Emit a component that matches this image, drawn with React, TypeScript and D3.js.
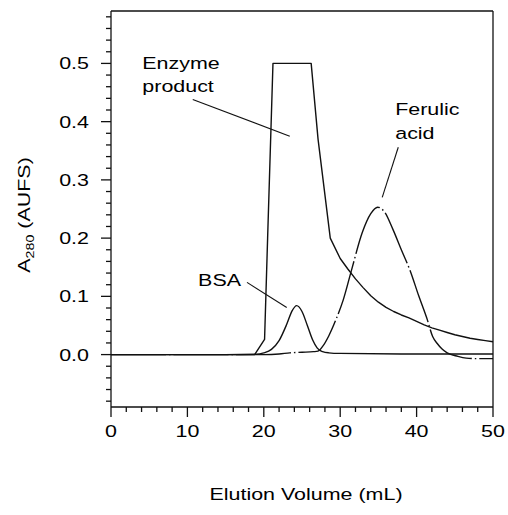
import React from 'react';
import * as d3 from 'd3';

const xTickValues = [0, 10, 20, 30, 40, 50];
const xTickLabels = ['0', '10', '20', '30', '40', '50'];
const yTickValues = [0, 0.1, 0.2, 0.3, 0.4, 0.5];
const yTickLabels = ['0.0', '0.1', '0.2', '0.3', '0.4', '0.5'];

const enzymeX = [0, 10, 18.8, 20.1, 20.5, 21.2, 26.2, 27.1, 28.7, 30, 31, 32, 33, 34, 35, 36, 37, 38, 39, 40, 41, 42, 43, 44, 45, 46, 47, 48, 49, 50];
const enzymeY = [0, 0, 0, 0.026, 0.2, 0.5, 0.5, 0.37, 0.2, 0.165, 0.147, 0.13, 0.115, 0.101, 0.09, 0.081, 0.074, 0.068, 0.063, 0.057, 0.051, 0.046, 0.042, 0.038, 0.034, 0.031, 0.028, 0.026, 0.024, 0.022];

const bsaX = [0, 15, 19, 20, 21, 22, 23, 23.7, 24.3, 25, 25.7, 26.4, 27, 27.7, 28.5, 30, 40, 50];
const bsaY = [0, 0, 0.0005, 0.003, 0.009, 0.024, 0.052, 0.075, 0.084, 0.074, 0.05, 0.025, 0.011, 0.005, 0.003, 0.002, 0.001, 0.001];

const ferulicX = [0, 20, 22, 23.4, 25, 26.5, 27.1, 27.7, 28.5, 29.5, 30.4, 31.5, 32.9, 34, 34.9, 35.8, 36.9, 38, 39.1, 40.3, 41.4, 42.1, 42.7, 43.3, 44, 45.4, 46.5, 48, 50];
const ferulicY = [0, 0, 0.001, 0.003, 0.004, 0.005, 0.006, 0.014, 0.032, 0.062, 0.094, 0.146, 0.21, 0.242, 0.253, 0.245, 0.215, 0.18, 0.146, 0.1, 0.06, 0.031, 0.019, 0.01, 0.003, -0.003, -0.006, -0.007, -0.007];

const FONT = '"Liberation Sans", Arial, sans-serif';
const FS = 16.5;
const SX = 1.3;

function T({ x, y, anchor = 'start', rotate = 0, children, size = FS }: any) {
  return (
    <text
      transform={`translate(${x},${y}) rotate(${rotate}) scale(${SX},1)`}
      textAnchor={anchor}
      fontFamily={FONT}
      fontSize={size}
      fill="#000"
    >
      {children}
    </text>
  );
}

export default function App() {
  const x = d3.scaleLinear().domain([0, 50]).range([111, 493]);
  const y = d3.scaleLinear().domain([-0.09, 0.59]).range([407, 11]);

  const lineLin = d3.line<[number, number]>().x(d => x(d[0])).y(d => y(d[1])).curve(d3.curveLinear);
  const lineSmooth = d3.line<[number, number]>().x(d => x(d[0])).y(d => y(d[1])).curve(d3.curveMonotoneX);

  const enzyme = enzymeX.map((v, i) => [v, enzymeY[i]] as [number, number]);
  const bsa = bsaX.map((v, i) => [v, bsaY[i]] as [number, number]);
  const ferulic = ferulicX.map((v, i) => [v, ferulicY[i]] as [number, number]);

  const xMinor = d3.range(0, 50.001, 2);
  const yMinor = d3.range(-0.08, 0.5801, 0.02);

  const [x0, x1] = x.range();
  const [yb, yt] = y.range();

  return (
    <svg width={508} height={515} style={{ position: 'absolute', left: 0, top: 0, background: '#fff' }}>
      <rect x={0} y={0} width={508} height={515} fill="#fff" />
      {/* frame */}
      <g stroke="#111" strokeWidth={1.3} fill="none">
        <line x1={x0} y1={yb} x2={x1} y2={yb} />
        <line x1={x0} y1={yt} x2={x1} y2={yt} />
        <line x1={x0} y1={yb} x2={x0} y2={yt} />
        <line x1={x1} y1={yb} x2={x1} y2={yt} />
        {xMinor.map(v => (
          <line key={'xm' + v} x1={x(v)} x2={x(v)} y1={yb} y2={yb + (v % 10 === 0 ? 10 : 5)} />
        ))}
        {yMinor.map(v => {
          const major = Math.abs(Math.round(v * 10) - v * 10) < 1e-6;
          return <line key={'ym' + v.toFixed(2)} x1={x0} x2={x0 - (major ? 10 : 5)} y1={y(v)} y2={y(v)} />;
        })}
      </g>
      {xTickValues.map((v, i) => (
        <T key={'xt' + v} x={x(v)} y={yb + 30} anchor="middle">{xTickLabels[i]}</T>
      ))}
      {yTickValues.map((v, i) => (
        <T key={'yt' + v} x={89} y={y(v) + 6} anchor="end">{yTickLabels[i]}</T>
      ))}
      <T x={(x0 + x1) / 2 + 4} y={500} anchor="middle">Elution Volume (mL)</T>
      <text
        transform={`translate(30,215) rotate(-90) scale(${SX},1)`}
        textAnchor="middle"
        fontFamily={FONT}
        fontSize={FS}
        fill="#000"
      >
        A<tspan fontSize={11} dy={4}>280</tspan><tspan dy={-4}>{'  (AUFS)'}</tspan>
      </text>

      {/* curves */}
      <g fill="none" stroke="#111" strokeWidth={1.4} strokeLinejoin="round">
        <path d={lineLin(enzyme) || ''} />
        <path d={lineSmooth(bsa) || ''} />
        <path d={lineSmooth(ferulic) || ''} strokeDasharray="55 3 1.5 3" />
      </g>

      {/* annotations */}
      <g stroke="#111" strokeWidth={1.1}>
        <line x1={x(10.7)} y1={y(0.438)} x2={x(23.4)} y2={y(0.375)} />
        <line x1={x(17.8)} y1={y(0.124)} x2={x(23.0)} y2={y(0.081)} />
        <line x1={x(37.6)} y1={y(0.356)} x2={x(35.5)} y2={y(0.27)} />
      </g>
      <T x={x(4.1)} y={y(0.491)}>Enzyme</T>
      <T x={x(4.1)} y={y(0.451)}>product</T>
      <T x={x(11.4)} y={y(0.118)}>BSA</T>
      <T x={x(37.2)} y={y(0.412)}>Ferulic</T>
      <T x={x(37.2)} y={y(0.371)}>acid</T>
    </svg>
  );
}
